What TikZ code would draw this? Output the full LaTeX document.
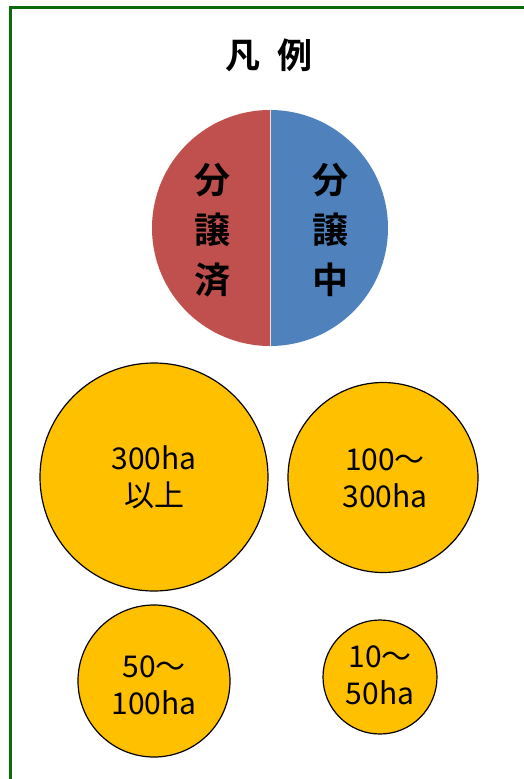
\documentclass[tikz,border=0pt]{standalone}
\usepackage{fontspec}
\setmainfont{Noto Sans CJK JP}
\newfontfamily\jpb{Noto Sans CJK JP Bold}
\definecolor{pred}{HTML}{C0504D}
\definecolor{pblue}{HTML}{4F81BD}
\definecolor{porange}{HTML}{FFC000}
\definecolor{bgreen}{HTML}{0B6A0B}
\begin{document}
\begin{tikzpicture}[x=1pt,y=-1pt,
  sizecirc/.style={circle,draw=black,line width=1.2pt,fill=porange,inner sep=0pt},
  sizetext/.style={align=center,font=\fontsize{30}{37}\selectfont},
  pietext/.style={align=center,font=\jpb\fontsize{36}{50}\selectfont}]
\useasboundingbox (0,0) rectangle (524,779);
\draw[bgreen,line width=3pt] (10.5,800) -- (10.5,7) -- (540,7);
\node[font=\jpb\fontsize{35}{40}\selectfont] (title) at (269,55) {凡\hspace{0.5em}例};
% pie
\coordinate (pc) at (270,228);
\begin{scope}
\clip (140,90) rectangle (270,360);
\fill[pred] (pc) circle[radius=118];
\end{scope}
\begin{scope}
\clip (270,90) rectangle (400,360);
\fill[pblue] (pc) circle[radius=118];
\end{scope}
\draw[white!80!pred,line width=0.6pt] (270,110) -- (270,346);
\node[pietext] (done) at (212,230) {分\\譲\\済};
\node[pietext] (prog) at (330,230) {分\\譲\\中};
% size circles
\node[sizecirc,minimum size=228pt] (c300) at (154,477) {};
\node[sizetext] (t300) at (154,477) {300ha\\以上};
\node[sizecirc,minimum size=190pt] (c100) at (383,477.5) {};
\node[sizetext] (t100) at (385,478) {100～\\300ha};
\node[sizecirc,minimum size=152pt] (c50) at (154,681) {};
\node[sizetext] (t50) at (154,685) {50～\\100ha};
\node[sizecirc,minimum size=114pt] (c10) at (380,677) {};
\node[sizetext] (t10) at (380,675) {10～\\50ha};
\end{tikzpicture}
\end{document}
